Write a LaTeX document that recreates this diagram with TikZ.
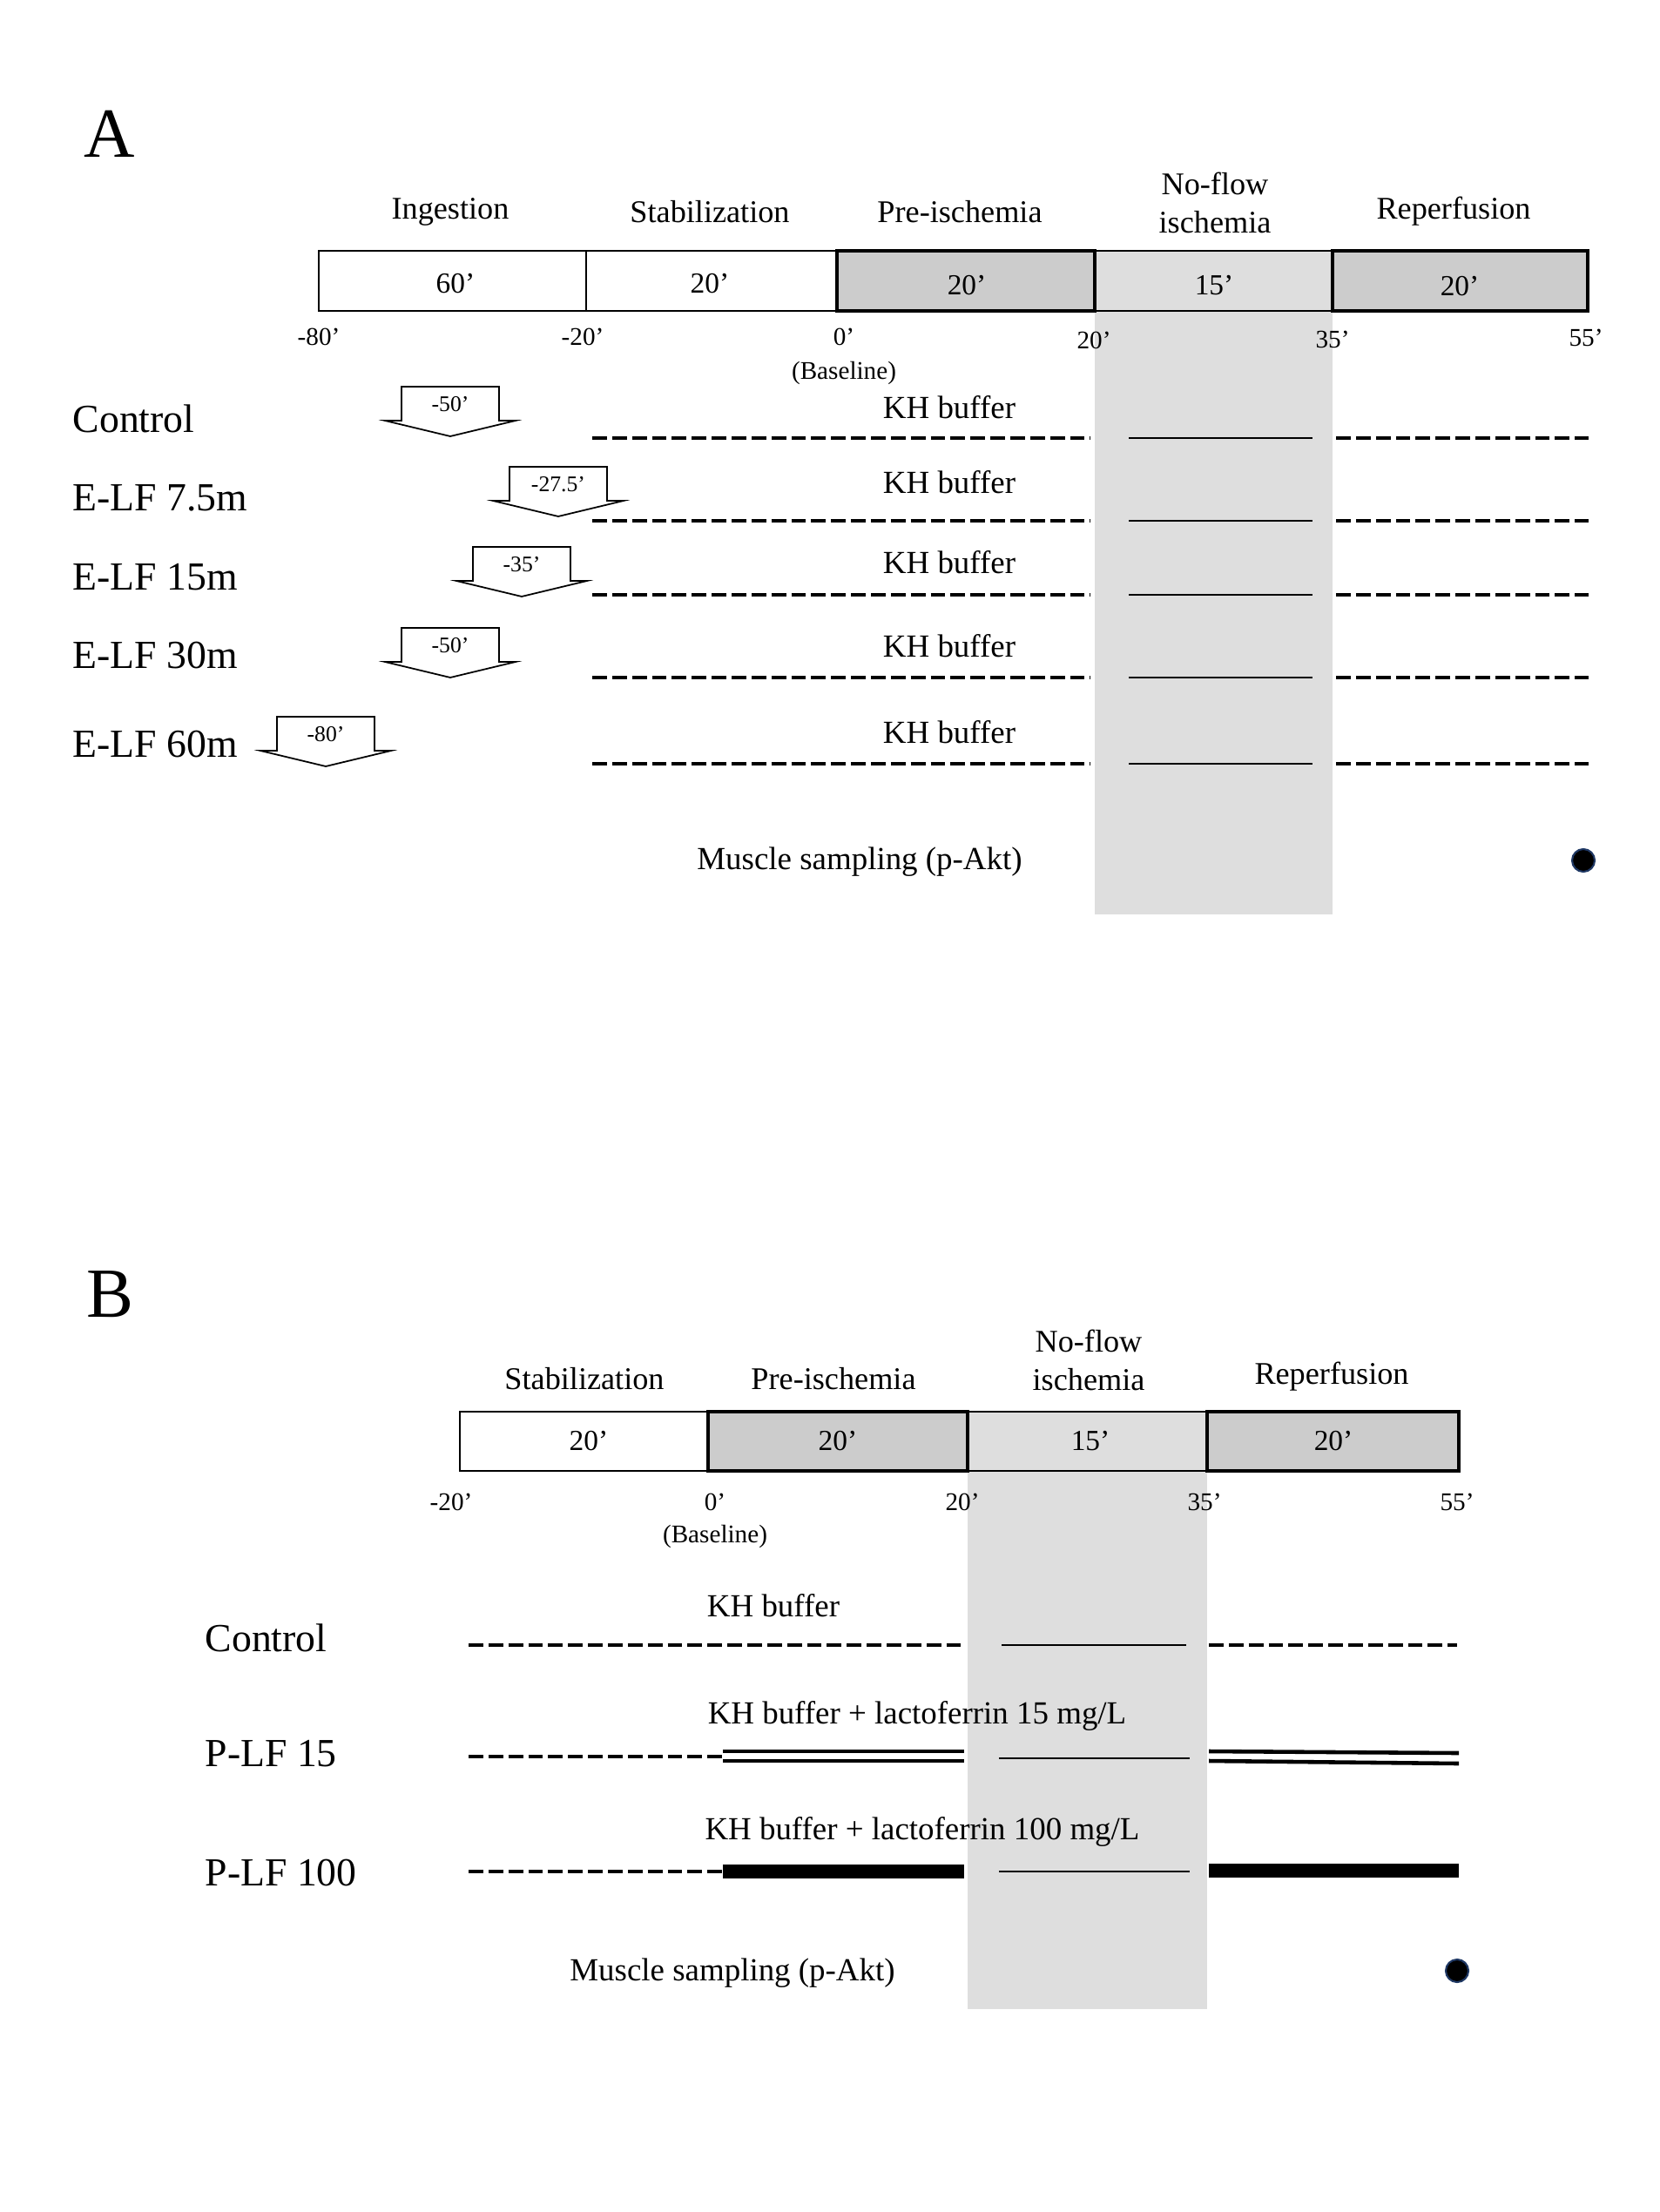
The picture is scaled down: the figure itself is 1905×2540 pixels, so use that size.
\documentclass[tikz,border=0pt]{standalone}
\usepackage{fontspec}
\setmainfont{Liberation Serif}
\definecolor{darkbox}{HTML}{CCCCCC}
\definecolor{ischgray}{HTML}{DEDEDE}
\definecolor{dotedge}{HTML}{1F3864}
\begin{document}
\begin{tikzpicture}[x=0.01cm, y=-0.01cm,
  thinbox/.style={draw, line width=0.4pt},
  thickbox/.style={draw, line width=1.3pt, fill=darkbox},
  panel/.style={font=\fontsize{23}{26}\selectfont},
  phase/.style={font=\fontsize{10.3}{12.6}\selectfont, align=center},
  seg/.style={font=\fontsize{9.5}{11}\selectfont},
  tick/.style={font=\fontsize{8.3}{10}\selectfont},
  grp/.style={anchor=west, inner sep=0pt, font=\fontsize{13}{15}\selectfont},
  soln/.style={font=\fontsize{10.5}{12}\selectfont},
  perf/.style={line width=1.4pt, dash pattern=on 4.8pt off 1.7pt},
  isch/.style={line width=0.6pt},
  lf15/.style={line width=1.3pt},
  lf100/.style={line width=4.3pt},
  ingest/.style={draw, line width=0.5pt, fill=white},
  sample/.style={circle, fill=black, draw=dotedge, line width=0.6pt, inner sep=0pt, minimum size=0.26cm}]
\useasboundingbox (0,0) rectangle (1905,2540);

% ---- A: ingestion ----
\node[panel] (A) at (126,154) {A};
\fill[ischgray] (1257,288) rectangle (1530,1050);
\draw[thinbox] (366,288) rectangle (673,357);
\draw[thinbox] (673,288) rectangle (961,357);
\draw[thinbox, fill=ischgray] (1257,288) rectangle (1530,357);
\draw[thickbox] (961,288) rectangle (1257,357);
\draw[thickbox] (1530,288) rectangle (1823,357);
\node[phase] (ingA) at (517,243) {Ingestion};
\node[phase] (stabA) at (815,243) {Stabilization};
\node[phase] (preA) at (1102,243) {Pre-ischemia};
\node[phase] (nfA) at (1395,233) {No-flow\\ischemia};
\node[phase] (repA) at (1669,243) {Reperfusion};
\node[seg] (s1A) at (523,326) {60’};
\node[seg] (s2A) at (815,326) {20’};
\node[seg] (s3A) at (1110,328) {20’};
\node[seg] (s4A) at (1394,328) {15’};
\node[seg] (s5A) at (1676,329) {20’};
\node[tick] (t1A) at (366,387) {-80’};
\node[tick] (t2A) at (669,387) {-20’};
\node[tick] (t3A) at (969,387) {0’};
\node[tick] (t4A) at (1256,391) {20’};
\node[tick] (t5A) at (1530,390) {35’};
\node[tick] (t6A) at (1821,388) {55’};
\node[tick] (baseA) at (969,428) {(Baseline)};
\foreach \lab/\ty/\ly/\ky/\at/\ax/\t [count=\i] in
  {Control/481/503/468/444/517/-50’,
   E-LF 7.5m/572/598/554/536/641/-27.5’,
   E-LF 15m/663/683/646/628/599/-35’,
   E-LF 30m/753/778/742/721/517/-50’,
   E-LF 60m/855/877/841/823/374/-80’}
{
  \node[grp] (grpA\i) at (83,\ty) {\lab};
  \node[soln] (khA\i) at (1090,\ky) {KH buffer};
  \draw[perf] (680,\ly) -- (1252,\ly);
  \draw[isch] (1296,\ly) -- (1507,\ly);
  \draw[perf] (1534,\ly) -- (1824,\ly);
  \draw[ingest] (\ax-56,\at) -- (\ax-56,\at+39) -- (\ax-75,\at+39) -- (\ax,\at+57)
    -- (\ax+75,\at+39) -- (\ax+56,\at+39) -- (\ax+56,\at) -- cycle;
  \node[font=\fontsize{7.3}{9}\selectfont] (doseA\i) at (\ax,\at+20) {\t};
}
\node[soln] (msA) at (987,990) {Muscle sampling (p-Akt)};
\node[sample] (dotA) at (1818,988) {};

% ---- B: perfusion ----
\node[panel] (B) at (126,1486) {B};
\fill[ischgray] (1111,1621) rectangle (1386,2307);
\draw[thinbox] (528,1621) rectangle (813,1689);
\draw[thinbox, fill=ischgray] (1111,1621) rectangle (1386,1689);
\draw[thickbox] (813,1621) rectangle (1111,1689);
\draw[thickbox] (1386,1621) rectangle (1675,1689);
\node[phase] (stabB) at (671,1583) {Stabilization};
\node[phase] (preB) at (957,1583) {Pre-ischemia};
\node[phase] (nfB) at (1250,1562) {No-flow\\ischemia};
\node[phase] (repB) at (1529,1581) {Reperfusion};
\node[seg] (s1B) at (676,1655) {20’};
\node[seg] (s2B) at (962,1655) {20’};
\node[seg] (s3B) at (1252,1655) {15’};
\node[seg] (s4B) at (1531,1655) {20’};
\node[tick] (t1B) at (518,1725) {-20’};
\node[tick] (t2B) at (821,1725) {0’};
\node[tick] (t3B) at (1105,1725) {20’};
\node[tick] (t4B) at (1383,1725) {35’};
\node[tick] (t5B) at (1673,1725) {55’};
\node[tick] (baseB) at (821,1764) {(Baseline)};
\node[grp] (grpB1) at (235,1881) {Control};
\node[grp] (grpB2) at (235,2014) {P-LF 15};
\node[grp] (grpB3) at (235,2150) {P-LF 100};
\node[soln] (khB1) at (888,1844) {KH buffer};
\node[soln] (khB2) at (1053,1970) {KH buffer + lactoferrin 15 mg/L};
\node[soln] (khB3) at (1059,2103) {KH buffer + lactoferrin 100 mg/L};
% control
\draw[perf] (538,1889) -- (1108,1889);
\draw[isch] (1150,1889) -- (1362,1889);
\draw[perf] (1388,1889) -- (1673,1889);
% 15 mg/L
\draw[perf] (538,2017) -- (830,2017);
\draw[lf15] (830,2011) -- (1107,2011) (830,2022) -- (1107,2022);
\draw[isch] (1147,2019) -- (1366,2019);
\draw[lf15] (1388,2011) -- (1675,2013) (1388,2022) -- (1675,2025);
% 100 mg/L
\draw[perf] (538,2149) -- (830,2149);
\draw[lf100] (830,2149) -- (1107,2149);
\draw[isch] (1147,2149) -- (1366,2149);
\draw[lf100] (1388,2148) -- (1675,2148);
\node[soln] (msB) at (841,2266) {Muscle sampling (p-Akt)};
\node[sample] (dotB) at (1673,2263) {};
\end{tikzpicture}
\end{document}
